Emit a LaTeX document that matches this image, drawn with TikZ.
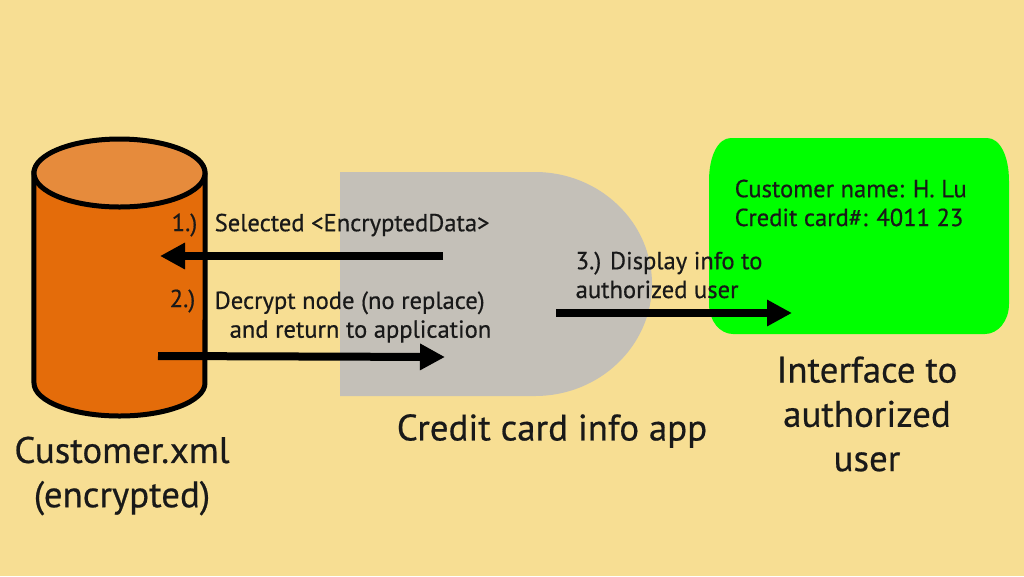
\documentclass[tikz,border=0pt]{standalone}
\usepackage{fontspec}
\setmainfont[FakeBold=0.5]{PT Sans}
\usetikzlibrary{arrows.meta}
\definecolor{fundo}{HTML}{F7DE93}
\definecolor{barril}{HTML}{E46C0A}
\definecolor{tampa}{HTML}{E68B3C}
\definecolor{app}{HTML}{C4C0B8}
\definecolor{tela}{HTML}{00FF00}
\tikzset{
	seta/.style={-{Triangle[length=0.25cm,width=0.25cm]}, line width=0.08cm, black},
	rotulo/.style={font=\fontsize{7pt}{8.2pt}\selectfont, text=black!90, inner sep=0pt, align=left, anchor=west},
	titulo/.style={font=\fontsize{10.5pt}{12.6pt}\selectfont, text=black!90, inner sep=0pt, align=center}
}
\begin{document}
\begin{tikzpicture}
	\useasboundingbox[fill=fundo] (0,0) rectangle (10.24,5.76); %Fundo
		%Cilindro
	\draw[line width=0.05cm, fill=barril] (0.34,4.03) -- (0.34,1.93) arc[start angle=180, end angle=360, x radius=0.855, y radius=0.33] -- (2.05,4.03) arc[start angle=0, end angle=180, x radius=0.855, y radius=0.33] -- cycle; %Corpo
	\draw[line width=0.05cm, fill=tampa] (1.195,4.03) ellipse[x radius=0.855, y radius=0.34]; %Tampa
		%Aplicativo
	\fill[app] (3.4,1.8) -- (5.35,1.8) arc[start angle=-90, end angle=90, x radius=1.17, y radius=1.12] -- (3.4,4.04) -- cycle;
		%Interface
	\fill[tela] (7.09,3.95) -- (7.09,2.72) .. controls (7.09,2.55) and (7.2,2.42) .. (7.33,2.42) -- (9.85,2.42) .. controls (9.98,2.42) and (10.09,2.55) .. (10.09,2.72) -- (10.09,3.95) .. controls (10.09,4.2) and (10.0,4.38) .. (9.87,4.38) -- (7.31,4.38) .. controls (7.18,4.38) and (7.09,4.2) .. (7.09,3.95) -- cycle;
		%Pontas das setas
	\coordinate (sel1) at (4.43,3.2);
	\coordinate (sel2) at (1.6,3.2);
	\coordinate (dec1) at (1.58,2.2);
	\coordinate (dec2) at (4.45,2.19);
	\coordinate (dis1) at (5.56,2.63);
	\coordinate (dis2) at (7.92,2.63);
	\draw[seta] (sel1) -- (sel2); %Passo 1
	\draw[seta] (dec1) -- (dec2); %Passo 2
	\draw[seta] (dis1) -- (dis2); %Passo 3
		%Textos dos passos
	\node[rotulo] (num1) at (1.71,3.51) {1.)};
	\node[rotulo] (txt1) at (2.14,3.51) {Selected <EncryptedData>};
	\node[rotulo] (num2) at (1.69,2.75) {2.)};
	\node[rotulo] (txt2) at (2.14,2.59) {Decrypt node (no replace)\\\hspace{0.15cm}and return to application};
	\node[rotulo] (txt3) at (5.75,3.01) {3.) Display info to\\authorized user};
	\node[rotulo] (dados) at (7.34,3.73) {Customer name: H. Lu\\Credit card\#: 4011 23};
		%Titulos
	\node[titulo] (xml) at (1.22,1.0) {Customer.xml\\(encrypted)};
	\node[titulo] (appname) at (5.52,1.45) {Credit card info app};
	\node[titulo] (userif) at (8.67,1.62) {Interface to\\authorized\\user};
\end{tikzpicture}
\end{document}
